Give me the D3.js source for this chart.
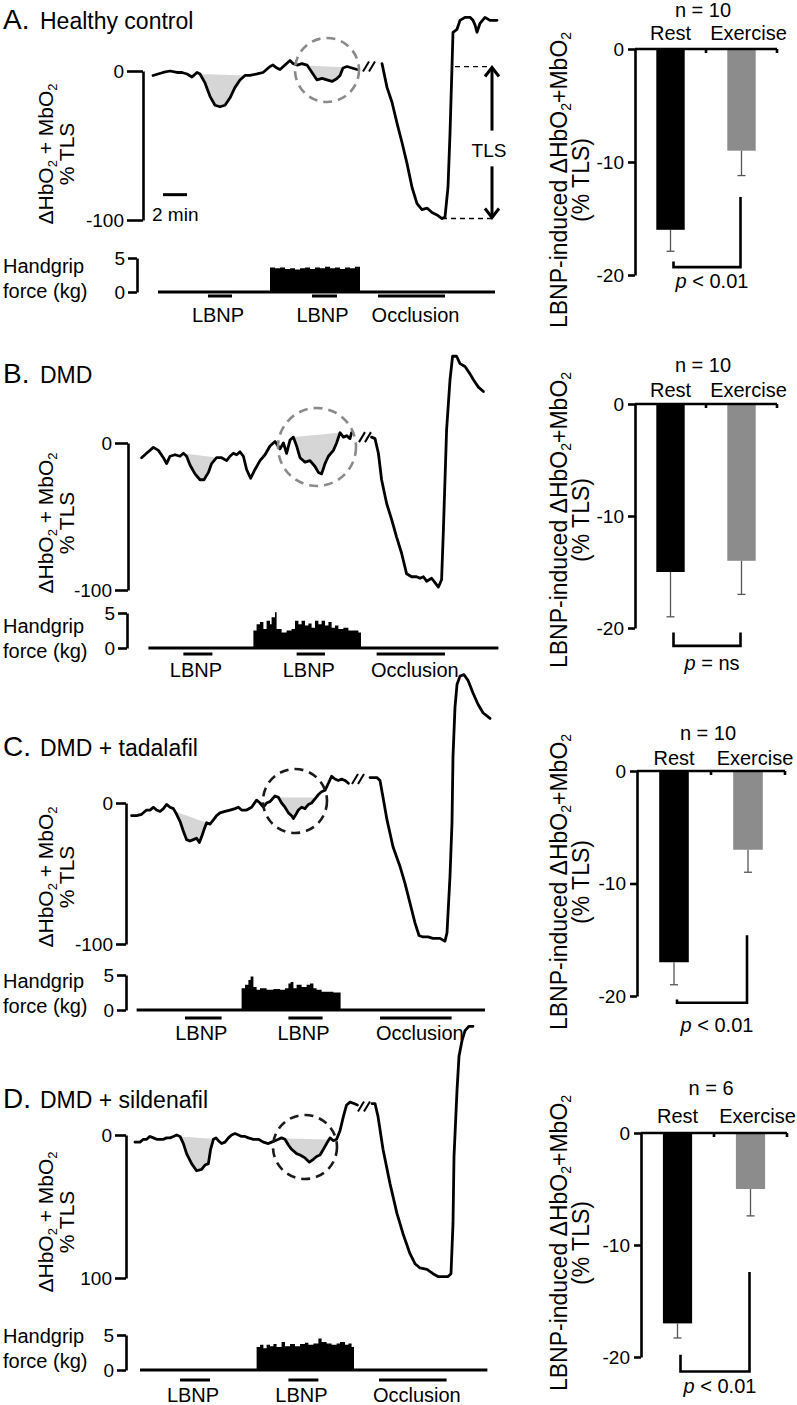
<!DOCTYPE html>
<html><head><meta charset="utf-8">
<script src="https://cdn.jsdelivr.net/npm/d3@7"></script>
<style>
body{margin:0;background:#fff}
text{font-family:"Liberation Sans",Arial,Helvetica,sans-serif;fill:#000}
</style>
</head><body><script>
// ---------------- DATA (time in s, signal in % TLS, force in kg) ----------------
const traceA1 = [[140,-3],[190,-1],[225,0],[260,-1],[285,-1],[310,-2],[335,-4],[360,-1],[375,-2],[400,-8],[425,-17],[450,-23],[475,-24],[500,-23],[525,-18],[550,-11],[575,-6],[600,-3],[625,-3],[660,-2],[690,-1],[725,3],[740,4],[760,2],[775,1],[800,4],[825,7],[840,5],[860,4],[885,5],[910,4],[935,-1],[960,-6],[985,-5],[1010,-6],[1035,-7],[1060,-5],[1075,-3],[1090,2],[1110,3],[1135,2],[1160,1]];
const traceA2 = [[1285,5],[1310,-11],[1335,-21],[1360,-35],[1385,-48],[1410,-62],[1435,-78],[1460,-89],[1485,-93],[1510,-92],[1535,-95],[1565,-97],[1585,-99],[1600,-98],[1615,-78],[1625,-42],[1635,3],[1640,26],[1660,28],[1675,34],[1700,36],[1725,36],[1740,34],[1750,31],[1760,26],[1775,32],[1800,36],[1825,34],[1860,34]];
const shadeA = [[375,600],[860,1100]];
const forceA = [[725,3.6],[750,3.5],[775,3.6],[800,3.4],[825,3.5],[850,3.3],[875,3.5],[900,3.6],[925,3.4],[950,3.6],[975,3.5],[1000,3.7],[1025,3.5],[1050,3.6],[1075,3.4],[1100,3.6],[1125,3.5],[1150,3.7],[1175,3.6]];
const forceSpanA = [165,1850];
const eventsA = [["LBNP",415,535],["LBNP",935,1060],["Occlusion",1265,1600]];

const traceB1 = [[83,-10],[108,-7],[142,-3],[167,-5],[192,-10],[208,-14],[225,-9],[250,-8],[275,-9],[292,-7],[308,-9],[325,-15],[350,-21],[375,-25],[395,-25],[417,-20],[433,-14],[458,-10],[483,-10],[508,-12],[525,-9],[542,-7],[558,-8],[575,-6],[592,-9],[608,-18],[628,-24],[650,-18],[675,-12],[700,-8],[725,-2],[750,1],[775,-4],[792,0],[808,-7],[825,2],[842,4],[858,-2],[875,-10],[900,-13],[925,-12],[950,-16],[967,-20],[983,-21],[1000,-14],[1017,-9],[1042,-5],[1058,0],[1075,7],[1092,4],[1108,5],[1125,3],[1133,7]];
const traceB2 = [[1233,4],[1250,3],[1267,-7],[1283,-25],[1308,-41],[1333,-52],[1358,-64],[1383,-75],[1408,-89],[1433,-91],[1458,-91],[1475,-92],[1492,-91],[1508,-94],[1533,-92],[1550,-95],[1567,-98],[1583,-93],[1592,-59],[1608,9],[1625,43],[1638,59],[1658,59],[1675,54],[1700,52],[1725,47],[1742,43],[1767,38],[1792,35]];
const shadeB = [[292,458],[842,1075]];
const forceB = [[642,2.5],[658,3.4],[675,3.7],[692,2.7],[708,3.9],[725,3.4],[733,4.4],[750,5.1],[758,2.7],[783,2.2],[808,2.5],[833,2.7],[850,3.9],[867,3.4],[883,3.9],[900,3.2],[917,3.5],[933,2.9],[950,3.9],[967,3.4],[983,3.9],[1000,3.2],[1017,3.7],[1033,2.9],[1050,3.2],[1067,2.7],[1092,2.9],[1117,2.5],[1142,2.5],[1167,2.2],[1180,2.5]];
const forceSpanB = [117,1867];
const eventsB = [["LBNP",292,437],["LBNP",858,1000],["Occlusion",1258,1600]];

const traceC1 = [[33,-9],[58,-9],[83,-8],[108,-5],[125,-5],[142,-3],[158,-5],[175,-6],[192,-4],[208,-1],[225,-3],[242,-4],[258,-8],[275,-13],[292,-20],[308,-26],[325,-27],[342,-26],[358,-25],[372,-28],[383,-24],[395,-19],[408,-14],[425,-15],[442,-12],[458,-9],[475,-7],[500,-6],[525,-5],[550,-4],[567,-3],[583,-5],[608,-5],[633,-3],[658,2],[675,0],[692,-3],[708,0],[725,1],[750,5],[767,4],[783,0],[800,-3],[817,-7],[833,-9],[842,-11],[855,-8],[867,-5],[883,-3],[900,-4],[917,-1],[933,0],[950,3],[967,6],[983,8],[1000,9],[1017,14],[1033,19],[1050,17],[1067,16],[1083,17],[1100,16],[1117,14]];
const traceC2 = [[1225,18],[1260,18],[1275,16],[1290,4],[1310,-12],[1340,-31],[1375,-45],[1400,-57],[1425,-71],[1450,-85],[1470,-94],[1490,-95],[1515,-95],[1540,-96],[1575,-96],[1600,-98],[1610,-92],[1625,-52],[1635,-14],[1640,33],[1650,68],[1660,84],[1675,90],[1695,91],[1715,87],[1740,78],[1765,70],[1790,64],[1825,60]];
const shadeC = [[250,408],[767,955]];
const forceC = [[583,3.1],[600,3.6],[617,4.3],[628,4.8],[642,3.3],[658,2.9],[675,3.1],[708,2.9],[742,3.0],[775,2.9],[800,3.1],[817,3.8],[828,4.0],[842,3.1],[858,3.6],[883,3.3],[908,3.6],[925,3.8],[942,3.1],[958,2.9],[983,2.6],[1008,2.6],[1042,2.5],[1078,2.4]];
const forceSpanC = [58,1800];
const eventsC = [["LBNP",300,483],["LBNP",817,988],["Occlusion",1275,1633]];

const traceD1 = [[50,-5],[75,-5],[92,-3],[108,-3],[125,-1],[142,-2],[158,-3],[175,-3],[192,-3],[208,-2],[225,-2],[242,-1],[258,0],[275,-1],[292,-6],[308,-13],[333,-20],[358,-25],[383,-24],[400,-21],[417,-20],[428,-10],[442,-3],[455,-2],[467,-4],[483,-6],[500,-5],[517,-2],[533,0],[550,1],[567,0],[583,-1],[600,-1],[617,-2],[642,-3],[667,-3],[692,-5],[717,-6],[733,-5],[750,-4],[767,-3],[783,-2],[800,-3],[817,-7],[833,-10],[858,-13],[875,-14],[900,-16],[922,-19],[942,-17],[958,-15],[975,-14],[992,-10],[1008,-6],[1025,-2],[1042,-4],[1058,-3],[1075,3],[1092,13],[1108,21],[1125,23],[1145,22],[1162,21]];
const traceD2 = [[1235,22],[1250,22],[1265,13],[1290,-10],[1325,-34],[1360,-55],[1390,-69],[1425,-83],[1450,-90],[1475,-93],[1510,-94],[1540,-97],[1565,-99],[1590,-99],[1615,-99],[1630,-97],[1640,-62],[1645,-15],[1660,31],[1670,55],[1685,66],[1700,73],[1720,76],[1740,76]];
const shadeD = [[275,445],[790,1020]];
const forceD = [[658,3.3],[675,3.6],[692,3.1],[708,3.6],[725,3.4],[742,3.7],[758,3.3],[783,4.0],[800,3.4],[825,3.7],[850,3.4],[875,3.7],[900,3.9],[917,3.6],[942,3.8],[967,4.5],[983,4.0],[1008,3.8],[1033,3.6],[1058,3.8],[1075,4.0],[1100,3.6],[1117,3.8],[1133,3.3],[1145,3.1]];
const forceSpanD = [75,1812];
const eventsD = [["LBNP",275,425],["LBNP",817,967],["Occlusion",1270,1608]];

// bar charts: mean and SE (LBNP-induced change, % TLS)
const barGroups = ["Rest","Exercise"];
const barMeanA = [-16,-9],  barSEA = [1.9,2.2], nA = 10, pA = "< 0.01";
const barMeanB = [-15,-14], barSEB = [4.0,3.0], nB = 10, pB = "= ns";
const barMeanC = [-17,-7],  barSEC = [2.0,2.0], nC = 10, pC = "< 0.01";
const barMeanD = [-17,-5],  barSED = [1.3,2.4], nD = 6,  pD = "< 0.01";
// bracket ends (left top, bottom, right top) in % TLS
const bracketA = [-18.8,-19.3,-13.1];
const bracketB = [-20.4,-21.6,-20.4];
const bracketC = [-20.3,-20.6,-14.6];
const bracketD = [-19.8,-21.3,-12.4];

// ---------------- LAYOUT ----------------
const panels = [
 {letter:"A.", title:"Healthy control", titleY:29, tr:[traceA1,traceA2], shades:shadeA, force:forceA, span:forceSpanA, events:eventsA,
  y0:71, y100:220, axX:143, tickLen:16, tickLabels:["0","-100"], ylabY:154,
  f0:292, f5:258, fAxX:137, evY:296, evLabY:322, hg:[273,298],
  circle:{t:1010,v:0.7,r:32,color:"#8a8a8a"}, brk:{t:1220,v:3},
  bars:{mean:barMeanA, se:barSEA, n:nA, p:pA, br:bracketA, x0:635, x1:777, b0:49, b20:275, nY:17, catY:40, labY:180, pY:288}},
 {letter:"B.", title:"DMD", titleY:383, tr:[traceB1,traceB2], shades:shadeB, force:forceB, span:forceSpanB, events:eventsB,
  y0:443, y100:590, axX:128, tickLen:13, tickLabels:["0","-100"], ylabY:523,
  f0:648, f5:613, fAxX:127, evY:654, evLabY:677, hg:[633,658],
  circle:{t:960,v:-2.7,r:39,color:"#8a8a8a"}, brk:{t:1200,v:4},
  bars:{mean:barMeanB, se:barSEB, n:nB, p:pB, br:bracketB, x0:635, x1:777, b0:404, b20:628, nY:372, catY:397, labY:520, pY:670}},
 {letter:"C.", title:"DMD + tadalafil", titleY:756, tr:[traceC1,traceC2], shades:shadeC, force:forceC, span:forceSpanC, events:eventsC,
  y0:803, y100:944, axX:126, tickLen:10, tickLabels:["0","-100"], ylabY:877,
  f0:1010, f5:975, fAxX:126, evY:1018, evLabY:1040, hg:[988,1013],
  circle:{t:850,v:1.4,r:32,color:"#1a1a1a"}, brk:{t:1165,v:17},
  bars:{mean:barMeanC, se:barSEC, n:nC, p:pC, br:bracketC, x0:637, x1:785, b0:771, b20:996, nY:740, catY:765, labY:882, pY:1032}},
 {letter:"D.", title:"DMD + sildenafil", titleY:1108, tr:[traceD1,traceD2], shades:shadeD, force:forceD, span:forceSpanD, events:eventsD,
  y0:1135, y100:1278, axX:126, tickLen:11, tickLabels:["0","100"], ylabY:1222,
  f0:1370, f5:1335, fAxX:126, evY:1380, evLabY:1402, hg:[1343,1368],
  circle:{t:900,v:-8.4,r:32,color:"#1a1a1a"}, brk:{t:1195,v:20},
  bars:{mean:barMeanD, se:barSED, n:nD, p:pD, br:bracketD, x0:641, x1:787, b0:1133, b20:1357, nY:1095, catY:1123, labY:1243, pY:1393}}
];

const FF = '"Liberation Sans",Arial,Helvetica,sans-serif';
const svg = d3.select("body").append("svg").attr("width",797).attr("height",1405);
const x = d3.scaleLinear().domain([0,1900]).range([125,505]);

function styleAxis(g, size){
  g.attr("font-size",size).attr("font-family",FF);
  g.select(".domain").attr("stroke","#000").attr("stroke-width",2.6);
  g.selectAll(".tick line").attr("stroke","#000").attr("stroke-width",2.6);
  g.selectAll(".tick text").attr("fill","#000");
}
function subLabel(g, tx, ty, parts, size){
  const t = g.append("text").attr("transform",`translate(${tx},${ty}) rotate(-90)`)
    .attr("text-anchor","middle").attr("font-size",size);
  let shifted = false;
  parts.forEach(([s,sub])=>{
    const sp = t.append("tspan").text(s);
    if(sub){ sp.attr("font-size",Math.round(size*0.62)).attr("dy",4); shifted=true; }
    else if(shifted){ sp.attr("dy",-4); shifted=false; }
  });
}

panels.forEach(p=>{
  const g = svg.append("g");
  const y = d3.scaleLinear().domain([-100,0]).range([p.y100,p.y0]);
  // title
  const tt = g.append("text").attr("x",3).attr("y",p.titleY);
  tt.append("tspan").attr("font-size",28).text(p.letter);
  tt.append("tspan").attr("x",40).attr("font-size",23).text(p.title);

  // y axis of trace
  const ax = g.append("g").attr("transform",`translate(${p.axX},0)`)
    .call(d3.axisLeft(y).tickValues([0,-100]).tickSize(p.tickLen).tickSizeOuter(0).tickPadding(3)
      .tickFormat((d,i)=>p.tickLabels[i]));
  styleAxis(ax,19);
  subLabel(g,53,p.ylabY,[["ΔHbO",0],["2",1],[" + MbO",0],["2",1]],21);
  subLabel(g,74,p.ylabY,[["% TLS",0]],21);

  // shading
  const seg = p.tr[0];
  const interp = d3.scaleLinear().domain(seg.map(d=>d[0])).range(seg.map(d=>d[1]));
  p.shades.forEach(([t0,t1])=>{
    const v0 = interp(t0), v1 = interp(t1);
    const base = d3.scaleLinear().domain([t0,t1]).range([v0,v1]);
    const pts = [[t0,v0], ...seg.filter(d=>d[0]>t0 && d[0]<t1), [t1,v1]];
    g.append("path").datum(pts).attr("fill","#d6d6d6")
      .attr("d", d3.area().x(d=>x(d[0])).y0(d=>y(base(d[0]))).y1(d=>y(d[1])));
  });
  // traces
  const line = d3.line().x(d=>x(d[0])).y(d=>y(d[1]));
  p.tr.forEach(tr=>{
    g.append("path").datum(tr).attr("fill","none").attr("stroke","#000").attr("stroke-width",2.8)
      .attr("stroke-linejoin","round").attr("stroke-linecap","round").attr("d",line);
  });
  // dashed circle
  g.append("circle").attr("cx",x(p.circle.t)).attr("cy",y(p.circle.v)).attr("r",p.circle.r)
    .attr("fill","none").attr("stroke",p.circle.color).attr("stroke-width",2.6).attr("stroke-dasharray","9,6");
  // break marks
  const bx = x(p.brk.t), by = y(p.brk.v);
  [-3,3].forEach(k=>{
    g.append("line").attr("x1",bx+k-3).attr("y1",by+5).attr("x2",bx+k+3).attr("y2",by-5)
      .attr("stroke","#000").attr("stroke-width",2);
  });

  // handgrip force
  const f = d3.scaleLinear().domain([0,5]).range([p.f0,p.f5]);
  const fax = g.append("g").attr("transform",`translate(${p.fAxX},0)`)
    .call(d3.axisLeft(f).tickValues([0,5]).tickSize(9).tickSizeOuter(0).tickPadding(3).tickFormat(d=>String(d)));
  styleAxis(fax,19);
  g.append("line").attr("x1",x(p.span[0])).attr("x2",x(p.span[1])).attr("y1",f(0)).attr("y2",f(0))
    .attr("stroke","#000").attr("stroke-width",3);
  g.append("path").datum(p.force).attr("fill","#000")
    .attr("d", d3.area().x(d=>x(d[0])).y0(f(0)).y1(d=>f(d[1])).curve(d3.curveStepAfter));
  g.append("text").attr("x",3).attr("y",p.hg[0]).attr("font-size",20).text("Handgrip");
  g.append("text").attr("x",3).attr("y",p.hg[1]).attr("font-size",20).text("force (kg)");
  // events
  p.events.forEach(([lab,t0,t1])=>{
    g.append("line").attr("x1",x(t0)).attr("x2",x(t1)).attr("y1",p.evY).attr("y2",p.evY)
      .attr("stroke","#000").attr("stroke-width",3);
    g.append("text").attr("x",(x(t0)+x(t1))/2 + (lab==="Occlusion"?4:-2)).attr("y",p.evLabY)
      .attr("text-anchor","middle").attr("font-size",20).text(lab);
  });

  // ---------------- bar chart ----------------
  const b = p.bars;
  const yb = d3.scaleLinear().domain([-20,0]).range([b.b20,b.b0]);
  const xb = d3.scaleBand().domain(barGroups).range([b.x0,b.x1]).paddingInner(0.6).paddingOuter(0.3);
  const cx = k=>xb(k)+xb.bandwidth()/2;
  barGroups.forEach((k,i)=>{
    g.append("rect").attr("x",xb(k)).attr("y",yb(0)).attr("width",xb.bandwidth())
      .attr("height",yb(b.mean[i])-yb(0)).attr("fill",i===0?"#000":"#8c8c8c");
    const e = b.mean[i]-b.se[i];
    g.append("line").attr("x1",cx(k)).attr("x2",cx(k)).attr("y1",yb(b.mean[i])).attr("y2",yb(e))
      .attr("stroke","#555").attr("stroke-width",1.3);
    g.append("line").attr("x1",cx(k)-4).attr("x2",cx(k)+4).attr("y1",yb(e)).attr("y2",yb(e))
      .attr("stroke","#555").attr("stroke-width",1.3);
  });
  const bax = g.append("g").attr("transform",`translate(${b.x0},0)`)
    .call(d3.axisLeft(yb).tickValues([0,-10,-20]).tickSize(7).tickSizeOuter(0).tickPadding(4).tickFormat(d=>String(d)));
  styleAxis(bax,19);
  g.append("line").attr("x1",b.x0).attr("x2",b.x1).attr("y1",yb(0)).attr("y2",yb(0))
    .attr("stroke","#000").attr("stroke-width",2.6);
  const mid = (cx("Rest")+cx("Exercise"))/2;
  [mid, b.x1].forEach(tx=>{
    g.append("line").attr("x1",tx).attr("x2",tx).attr("y1",yb(0)).attr("y2",yb(0)+4)
      .attr("stroke","#000").attr("stroke-width",2.6);
  });
  g.append("text").attr("x",mid-3).attr("y",b.nY).attr("text-anchor","middle").attr("font-size",20).text(`n = ${b.n}`);
  g.append("text").attr("x",cx("Rest")).attr("y",b.catY).attr("text-anchor","middle").attr("font-size",20).text("Rest");
  g.append("text").attr("x",cx("Exercise")+7).attr("y",b.catY).attr("text-anchor","middle").attr("font-size",20).text("Exercise");
  const xl = cx("Rest")+3, xr = cx("Exercise")-1;
  g.append("path").attr("fill","none").attr("stroke","#000").attr("stroke-width",2.6)
    .attr("d",`M${xl},${yb(b.br[0])}V${yb(b.br[1])}H${xr}V${yb(b.br[2])}`);
  const pt = g.append("text").attr("x",mid+6).attr("y",b.pY).attr("text-anchor","middle").attr("font-size",20);
  pt.append("tspan").attr("font-style","italic").text("p");
  pt.append("tspan").text(" "+b.p);
  subLabel(g,567,b.labY,[["LBNP-induced ΔHbO",0],["2",1],["+MbO",0],["2",1]],23);
  subLabel(g,589,b.labY,[["(% TLS)",0]],23);

  // panel A extras: scale bar and TLS arrow
  if(p.letter==="A."){
    const sy = y(-83);
    g.append("line").attr("x1",x(190)).attr("x2",x(310)).attr("y1",sy).attr("y2",sy).attr("stroke","#000").attr("stroke-width",3);
    g.append("text").attr("x",x(190)-11).attr("y",sy+26).attr("font-size",19).text("2 min");
    const ax2 = x(1835), yt = y(3), ybm = y(-99);
    g.append("line").attr("x1",x(1650)).attr("x2",ax2).attr("y1",yt).attr("y2",yt).attr("stroke","#000").attr("stroke-width",1.3).attr("stroke-dasharray","5,4");
    g.append("line").attr("x1",x(1585)).attr("x2",ax2).attr("y1",ybm).attr("y2",ybm).attr("stroke","#000").attr("stroke-width",1.3).attr("stroke-dasharray","5,4");
    g.append("line").attr("x1",ax2).attr("x2",ax2).attr("y1",yt+1).attr("y2",y(-40)).attr("stroke","#000").attr("stroke-width",3);
    g.append("line").attr("x1",ax2).attr("x2",ax2).attr("y1",y(-64)).attr("y2",ybm-1).attr("stroke","#000").attr("stroke-width",3);
    g.append("path").attr("fill","none").attr("stroke","#000").attr("stroke-width",3)
      .attr("d",`M${ax2-7},${yt+10}L${ax2},${yt+1}L${ax2+7},${yt+10}M${ax2-7},${ybm-10}L${ax2},${ybm-1}L${ax2+7},${ybm-10}`);
    g.append("text").attr("x",ax2-3).attr("y",y(-58)).attr("text-anchor","middle").attr("font-size",19).text("TLS");
  }
});
</script></body></html>
